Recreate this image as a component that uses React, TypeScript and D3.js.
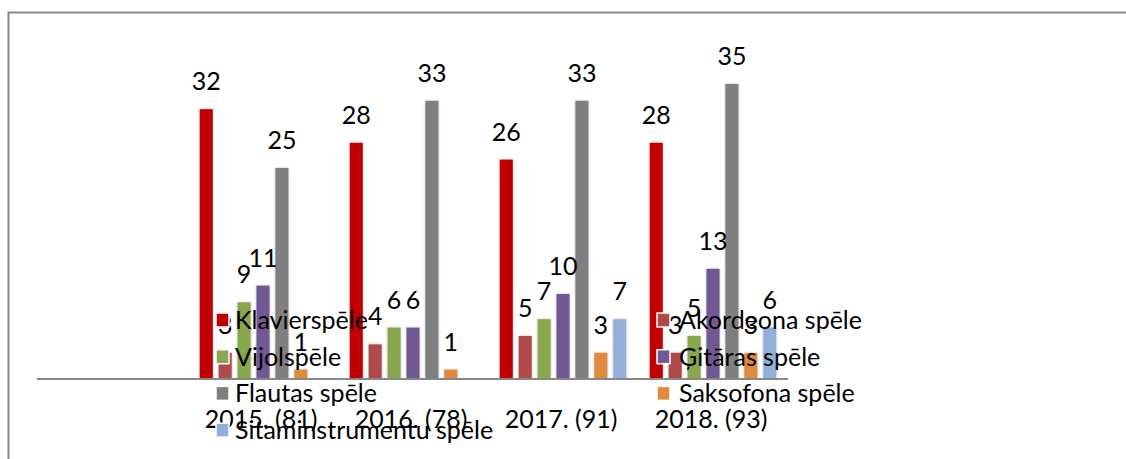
import React, { useEffect, useRef } from 'react'
import * as d3 from 'd3'

const categories = ['2015. (81)', '2016. (78)', '2017. (91)', '2018. (93)']
const seriesNames = [
  'Klavierspēle',
  'Akordeona spēle',
  'Vijolspēle',
  'Ģitāras spēle',
  'Flautas spēle',
  'Saksofona spēle',
  'Sitaminstrumentu spēle',
]
const klavier = [32, 28, 26, 28]
const akordeons = [3, 4, 5, 3]
const vijole = [9, 6, 7, 5]
const gitara = [11, 6, 10, 13]
const flauta = [25, 33, 33, 35]
const saksofons = [1, 1, 3, 3]
const sitaminstrumenti = [0, 0, 7, 6]
const colors = ['#c00000', '#b04849', '#88a64b', '#715893', '#7f7f7f', '#e08a3d', '#92afd9']

const FONT = 'Lato, "Noto Sans", sans-serif'

export default function App() {
  const svgRef = useRef<SVGSVGElement>(null)

  useEffect(() => {
    const values = [klavier, akordeons, vijole, gitara, flauta, saksofons, sitaminstrumenti]
    const svg = d3.select(svgRef.current)
    svg.selectAll('*').remove()

    const defs = svg.append('defs')
    const f = defs.append('filter').attr('id', 'sh').attr('x', '-40%').attr('y', '-10%').attr('width', '180%').attr('height', '120%')
    f.append('feDropShadow').attr('dx', 0).attr('dy', 0).attr('stdDeviation', 1.3)
      .attr('flood-color', '#000').attr('flood-opacity', 0.28)

    // frame
    svg.append('rect').attr('x', 8.5).attr('y', 12.5).attr('width', 1300).attr('height', 600)
      .attr('fill', 'none').attr('stroke', '#878787').attr('stroke-width', 2)

    const x0 = d3.scaleBand().domain(categories).range([188, 788])
    const x1 = d3.scaleBand().domain(seriesNames).range([0, x0.bandwidth()])
      .paddingInner(0.31).paddingOuter(0.62)
    const y = d3.scaleLinear().domain([0, 40]).range([378, 42])

    const plot = svg.append('g')
    seriesNames.forEach((s, si) => {
      categories.forEach((c, ci) => {
        const v = values[si][ci]
        if (!v) return
        plot.append('rect')
          .attr('x', (x0(c) as number) + (x1(s) as number))
          .attr('y', y(v))
          .attr('width', x1.bandwidth())
          .attr('height', y(0) - y(v))
          .attr('fill', colors[si])
          .attr('filter', 'url(#sh)')
      })
    })

    // axis line
    svg.append('line').attr('x1', 37).attr('x2', 788).attr('y1', 379).attr('y2', 379)
      .attr('stroke', '#878787').attr('stroke-width', 2)

    // data labels
    seriesNames.forEach((s, si) => {
      categories.forEach((c, ci) => {
        const v = values[si][ci]
        if (!v) return
        svg.append('text')
          .attr('x', (x0(c) as number) + (x1(s) as number) + x1.bandwidth() / 2)
          .attr('y', y(v) - 19)
          .attr('text-anchor', 'middle')
          .attr('font-family', FONT).attr('font-size', 25)
          .attr('fill', '#000')
          .text(v)
      })
    })

    // category labels
    categories.forEach(c => {
      svg.append('text')
        .attr('x', (x0(c) as number) + x0.bandwidth() / 2 - 2)
        .attr('y', 428)
        .attr('text-anchor', 'middle')
        .attr('font-family', FONT).attr('font-size', 25)
        .attr('fill', '#000')
        .text(c)
    })

    // legend
    const legend = svg.append('g')
    seriesNames.forEach((s, i) => {
      const col = i % 2
      const row = Math.floor(i / 2)
      const lx = col === 0 ? 216 : 657
      const cy = 320 + row * 36.7
      legend.append('rect').attr('x', lx).attr('y', cy - 7).attr('width', 13).attr('height', 14)
        .attr('fill', colors[i]).attr('stroke', '#fff').attr('stroke-width', 1.5)
      legend.append('text').attr('x', lx + (col === 0 ? 19 : 22)).attr('y', cy + 9)
        .attr('font-family', FONT).attr('font-size', 25).attr('fill', '#000')
        .text(s)
    })
  }, [])

  return (
    <svg ref={svgRef} width={1126} height={459}
      style={{ position: 'absolute', left: 0, top: 0, background: '#fff' }} />
  )
}
